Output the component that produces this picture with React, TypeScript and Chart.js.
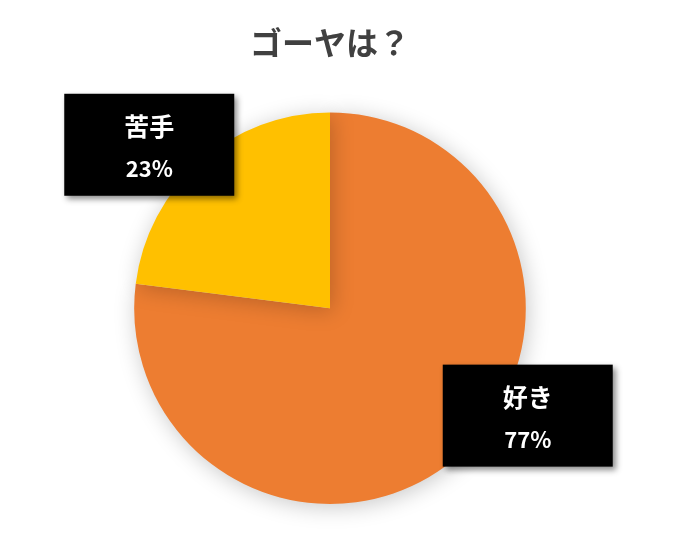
import { useEffect, useRef } from "react";
import { Chart, registerables } from "chart.js";

Chart.register(...registerables);

const labels = ["好き", "苦手"];
const values = [77, 23];
const colors = ["#ED7D31", "#FFC000"];
// box center offset from each slice's centroid
const boxOffsets = [
  { dx: 133, dy: 34 },
  { dx: -116, dy: -90 },
];

const FONT = "'Noto Sans CJK JP', 'Noto Sans', sans-serif";

const pieShadow = {
  id: "pieShadow",
  beforeDatasetDraw(chart: any) {
    const ctx = chart.ctx;
    ctx.save();
    ctx.shadowColor = "rgba(0,0,0,0.22)";
    ctx.shadowBlur = 22;
    ctx.shadowOffsetX = 2;
    ctx.shadowOffsetY = 3;
  },
  afterDatasetDraw(chart: any) {
    chart.ctx.restore();
  },
};

const boxLabels = {
  id: "boxLabels",
  afterDatasetsDraw(chart: any) {
    const ctx = chart.ctx;
    const meta = chart.getDatasetMeta(0);
    const total = values.reduce((s, v) => s + v, 0);
    meta.data.forEach((arc: any, i: number) => {
      const p = arc.tooltipPosition();
      const cx = p.x + boxOffsets[i].dx;
      const cy = p.y + boxOffsets[i].dy;
      const w = 170;
      const h = 102;
      ctx.save();
      ctx.shadowColor = "rgba(0,0,0,0.45)";
      ctx.shadowBlur = 6;
      ctx.shadowOffsetX = 3;
      ctx.shadowOffsetY = 3;
      ctx.fillStyle = "#000";
      ctx.fillRect(cx - w / 2, cy - h / 2, w, h);
      ctx.restore();

      ctx.save();
      ctx.fillStyle = "#fff";
      ctx.textAlign = "center";
      ctx.textBaseline = "middle";
      ctx.font = `bold 25px ${FONT}`;
      ctx.fillText(labels[i], cx, cy - 18);
      ctx.font = `bold 22px ${FONT}`;
      ctx.fillText(`${Math.round((values[i] / total) * 100)}%`, cx, cy + 24);
      ctx.restore();
    });
  },
};

export default function App() {
  const canvasRef = useRef<HTMLCanvasElement>(null);
  const chartRef = useRef<Chart | null>(null);

  useEffect(() => {
    document.body.style.margin = "0";
    if (!canvasRef.current) return;
    chartRef.current?.destroy();

    chartRef.current = new Chart(canvasRef.current, {
      type: "pie",
      data: {
        labels,
        datasets: [
          {
            data: values,
            backgroundColor: colors,
            borderWidth: 0,
          },
        ],
      },
      options: {
        animation: false,
        responsive: true,
        maintainAspectRatio: false,
        layout: { padding: { top: 0, bottom: 37, left: 0, right: 24 } },
        plugins: {
          legend: { display: false },
          tooltip: { enabled: false },
          title: {
            display: true,
            text: "ゴーヤは？",
            color: "#404040",
            font: { size: 32, weight: "bold", family: FONT },
            padding: { top: 24, bottom: 50 },
          },
        },
      },
      plugins: [pieShadow, boxLabels],
    });

    return () => chartRef.current?.destroy();
  }, []);

  return (
    <div style={{ width: 684, height: 541, position: "relative", background: "#fff" }}>
      <canvas ref={canvasRef} />
    </div>
  );
}
